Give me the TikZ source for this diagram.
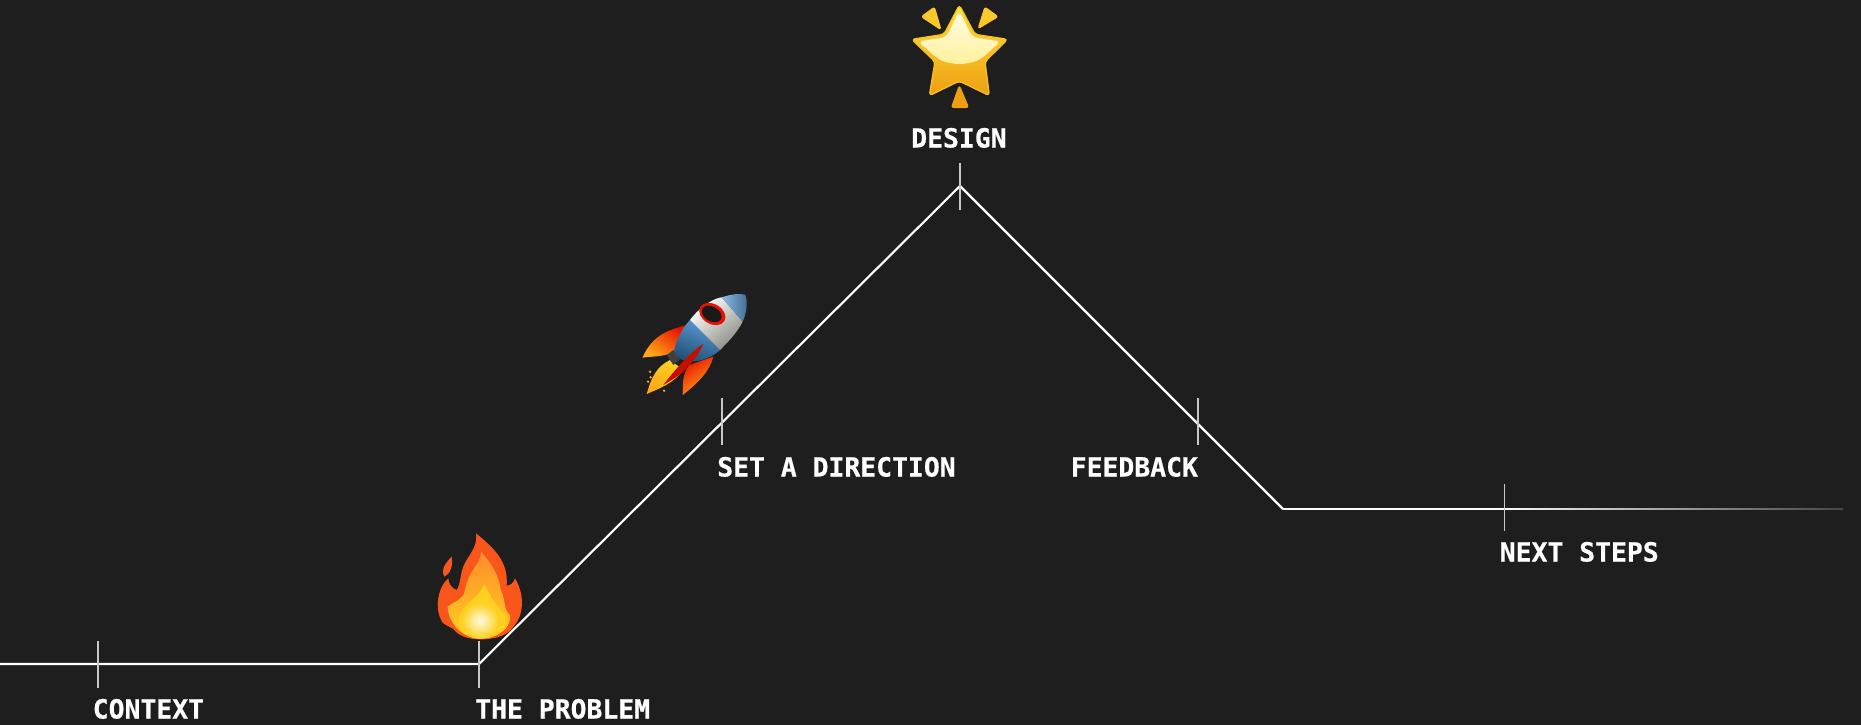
\documentclass[tikz,border=0pt]{standalone}
\usepackage{fontspec}
\newfontfamily\labelfont[FakeBold=0.6]{DejaVu Sans Mono Bold}
\usetikzlibrary{calc}
\definecolor{slide}{HTML}{1E1E1E}
\definecolor{linefade}{HTML}{444444}
\definecolor{tickgrey}{HTML}{C8C8C8}
\definecolor{flamered}{HTML}{F9561C}
\definecolor{flameorange}{HTML}{FF8C2A}
\definecolor{flameyellow}{HTML}{FFD020}
\definecolor{flamecore}{HTML}{FFFBE0}
\definecolor{rocketblue}{HTML}{5A9BD6}
\definecolor{rocketnavy}{HTML}{1F4A70}
\definecolor{rocketgrey}{HTML}{8C8C84}
\definecolor{finred}{HTML}{E81200}
\definecolor{finorange}{HTML}{FFA818}
\definecolor{starpale}{HTML}{FFFCE6}
\definecolor{starmid}{HTML}{FFE23C}
\definecolor{stardeep}{HTML}{EE9E12}
\pgfdeclarehorizontalshading{linefadeout}{100bp}{color(0bp)=(white); color(44bp)=(white); color(75bp)=(linefade); color(100bp)=(linefade)}
\begin{document}
\begin{tikzpicture}[
    x=0.75pt, y=-0.75pt,
    trend/.style={draw=white, line width=1.6pt, line join=miter},
    tickline/.style={draw=tickgrey, line width=0.8pt},
    lbl/.style={anchor=base west, inner sep=0pt, text=white, font=\labelfont\fontsize{19.8pt}{24pt}\selectfont},
    emoji/.style={shift={#1}, x=0.25pt, y=-0.25pt},
    spark/.style={line width=1pt, line join=round, rounded corners=1.5pt, draw=#1, fill=#1}
  ]
    \fill[slide] (0,0) rectangle (1861,725);
    \useasboundingbox (0,0) rectangle (1861,725);

    \coordinate (linestart) at (0,664);
    \coordinate (problem) at (479,664);
    \coordinate (peak) at (960,186);
    \coordinate (valley) at (1283,509);
    \coordinate (lineend) at (1843,509);

    \draw[trend] (linestart) -- (problem) -- (peak) -- (valley);
    \shade[shading=linefadeout] ([yshift=0.7pt]valley) rectangle ([yshift=-0.7pt]lineend);

    \foreach \tickname/\tickx/\ticky in {context/98/664.5, theproblem/479/664.5, direction/722/421.5, design/960/186.5, feedback/1198/421.5, nextsteps/1504.5/507.5}{
      \coordinate (\tickname) at (\tickx,\ticky);
      \draw[tickline] ([yshift=17.6pt]\tickname) -- ([yshift=-17.6pt]\tickname);
    }

    \node[lbl] (lcontext) at ([shift={(-5.5,54)}]context) {CONTEXT};
    \node[lbl] (lproblem) at ([shift={(-4,54)}]theproblem) {THE PROBLEM};
    \node[lbl] (ldirection) at ([shift={(-5,55)}]direction) {SET A DIRECTION};
    \node[lbl] (ldesign) at ([shift={(-49,-39)}]design) {DESIGN};
    \node[lbl] (lfeedback) at ([shift={(-127.5,55)}]feedback) {FEEDBACK};
    \node[lbl] (lnext) at ([shift={(-5,54)}]nextsteps) {NEXT STEPS};

    \begin{scope}[emoji={(400,500)}]
      \fill[flamered] (240,418) .. controls (290,418) and (325,405) .. (342,378) .. controls (368,350) and (378,290) .. (345,235) .. controls (340,250) and (330,258) .. (320,256) .. controls (325,190) and (290,150) .. (228,100) .. controls (235,150) and (195,170) .. (185,215) .. controls (180,240) and (178,260) .. (170,270) .. controls (155,265) and (145,250) .. (145,235) .. controls (115,260) and (100,325) .. (128,368) .. controls (140,378) and (150,380) .. (160,387) .. controls (175,407) and (205,418) .. (240,418) -- cycle;
      \fill[flamered] (155,170) .. controls (135,190) and (122,210) .. (133,230) .. controls (150,222) and (160,200) .. (155,170) -- cycle;
      \shade[top color=flameorange, bottom color=flameyellow] (240,416) .. controls (285,416) and (335,390) .. (330,345) .. controls (310,330) and (318,300) .. (302,270) .. controls (295,215) and (265,180) .. (243,155) .. controls (245,190) and (205,210) .. (195,270) .. controls (190,300) and (170,300) .. (143,320) .. controls (145,375) and (195,416) .. (240,416) -- cycle;
      \fill[flameyellow] (240,416) .. controls (285,416) and (325,395) .. (315,345) .. controls (295,325) and (270,290) .. (252,250) .. controls (245,290) and (195,305) .. (180,345) .. controls (160,385) and (200,416) .. (240,416) -- cycle;
      \shade[inner color=flamecore, outer color=flameyellow] (240,362) ellipse (56 and 54);
    \end{scope}

    \begin{scope}[emoji={(620,270)}]
      \shade[top color=finred, bottom color=finorange, shading angle=-35] (200,165) .. controls (150,180) and (100,190) .. (67,263) .. controls (100,258) and (140,262) .. (170,240) -- cycle;
      \shade[top color=finred, bottom color=finorange, shading angle=35] (280,260) .. controls (270,300) and (240,335) .. (188,375) .. controls (190,340) and (185,315) .. (208,285) -- cycle;
      \shade[top color=flameyellow, bottom color=finorange, shading angle=-30] (150,270) .. controls (110,290) and (95,320) .. (80,372) .. controls (120,355) and (160,340) .. (190,300) -- cycle;
      \foreach \sparkx/\sparky in {90/305, 84/335, 100/352, 132/362, 92/322}{
        \fill[finorange] (\sparkx,\sparky) circle (4);
      }
      \fill[black!75] (140,255) -- (160,240) -- (180,268) -- (160,285) -- cycle;
      \shade[top color=rocketblue, bottom color=rocketnavy, shading angle=-20] (210,150) .. controls (185,175) and (165,220) .. (162,245) .. controls (175,285) and (250,285) .. (300,240) -- cycle;
      \shade[left color=white, right color=rocketgrey, shading angle=40] (210,150) .. controls (240,110) and (280,85) .. (305,82) -- (368,155) .. controls (350,190) and (325,215) .. (300,240) -- cycle;
      \shade[left color=rocketblue!70!white, right color=rocketblue!70!black] (305,82) .. controls (335,72) and (360,70) .. (376,74) .. controls (384,95) and (380,130) .. (368,155) -- cycle;
      \fill[finred] (277,132) ellipse [x radius=42, y radius=30, rotate=-30];
      \fill[black!90] (275,132) ellipse [x radius=32, y radius=22, rotate=-30];
      \fill[finred!85!black] (250,222) .. controls (225,235) and (175,285) .. (130,345) .. controls (165,325) and (195,305) .. (208,285) .. controls (225,265) and (240,245) .. (250,222) -- cycle;
    \end{scope}

    \begin{scope}[emoji={(880,0)}]
      \shade[top color=starmid, middle color=starmid, bottom color=stardeep, draw=stardeep!50!starmid, line width=1pt, line join=round, rounded corners=2.5pt] (238,15) -- (285,103) -- (383,118) -- (315,185) -- (328,287) -- (238,243) -- (148,287) -- (165,185) -- (95,118) -- (192,103) -- cycle;
      \shade[top color=starpale, bottom color=starpale!55!starmid, rounded corners=4pt] (238,32) -- (277,112) -- (362,124) -- (305,176) .. controls (260,195) and (216,195) .. (172,176) -- (114,124) -- (199,112) -- cycle;
      \fill[spark=starmid!60!stardeep] (125,50) -- (163,22) -- (182,88) -- cycle;
      \fill[spark=starmid!60!stardeep] (295,85) -- (315,22) -- (353,50) -- cycle;
      \fill[spark=stardeep] (215,322) -- (238,258) -- (265,322) -- cycle;
    \end{scope}
  \end{tikzpicture}
\end{document}
